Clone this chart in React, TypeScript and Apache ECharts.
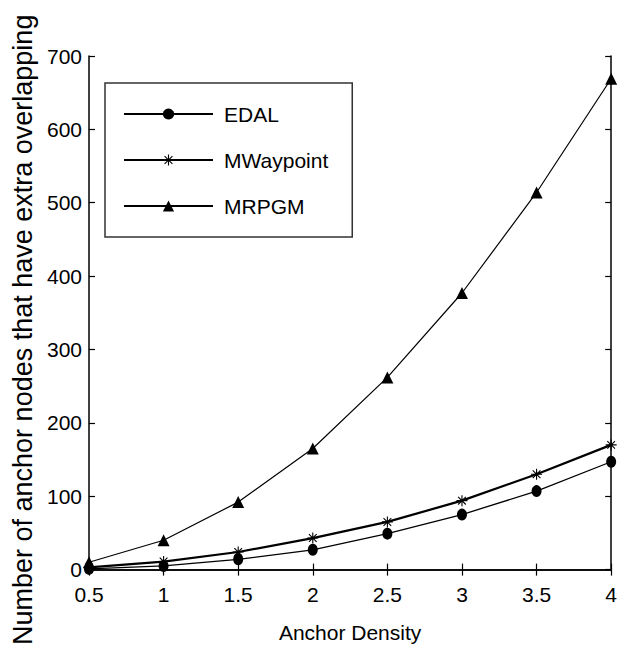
import React, { useEffect, useRef } from "react";
import * as echarts from "echarts";

const xValues = [0.5, 1, 1.5, 2, 2.5, 3, 3.5, 4];
const edal = [1, 5, 14, 27, 49, 75, 107, 147];
const mwaypoint = [3, 11, 24, 43, 65, 94, 130, 170];
const mrpgm = [10, 40, 92, 165, 262, 377, 514, 669];
const seriesNames = ["EDAL", "MWaypoint", "MRPGM"];

const ASTERISK =
  "path://M-1,-10L1,-10L1,10L-1,10Z M-10,-1L10,-1L10,1L-10,1Z M-7.7,-6.3L-6.3,-7.7L7.7,6.3L6.3,7.7Z M6.3,-7.7L7.7,-6.3L-6.3,7.7L-7.7,6.3Z";

const FONT = "'Liberation Sans', Arial, sans-serif";

export default function App() {
  const ref = useRef<HTMLDivElement>(null);
  useEffect(() => {
    document.body.style.margin = "0";
    const chart = echarts.init(ref.current!, null, { renderer: "svg" });
    const pairs = (ys: number[]) => xValues.map((x, i) => [x, ys[i]]);
    const axisCommon = {
      type: "value" as const,
      axisLine: { show: true, lineStyle: { color: "#000", width: 1.5 } },
      axisTick: { show: true, inside: true, length: 6, lineStyle: { color: "#000", width: 1.2 } },
      splitLine: { show: false },
    };
    chart.setOption({
      animation: false,
      backgroundColor: "#fff",
      grid: { left: 89, right: 8, top: 56, bottom: 77, containLabel: false },
      legend: {
        data: seriesNames,
        orient: "vertical",
        left: 105,
        top: 83,
        padding: [17, 24, 17, 18],
        itemGap: 18,
        itemWidth: 89,
        itemHeight: 14,
        backgroundColor: "#fff",
        borderColor: "#333",
        borderWidth: 1.5,
        borderRadius: 0,
        textStyle: { fontFamily: FONT, fontSize: 21, color: "#000", lineHeight: 28, padding: [0, 0, 0, 6] },
      },
      xAxis: [
        {
          ...axisCommon,
          position: "bottom",
          min: 0.5,
          max: 4,
          interval: 0.5,
          name: "Anchor Density",
          nameLocation: "middle",
          nameGap: 52,
          nameTextStyle: { fontFamily: FONT, fontSize: 21, color: "#000" },
          axisLabel: { show: true, margin: 14, fontFamily: FONT, fontSize: 21, color: "#000" },
        },
        {
          ...axisCommon,
          position: "top",
          min: 0.5,
          max: 4,
          interval: 0.5,
          axisLabel: { show: false },
        },
      ],
      yAxis: [
        {
          ...axisCommon,
          position: "left",
          min: 0,
          max: 700,
          interval: 100,
          name: "Number of anchor nodes that have extra overlapping",
          nameLocation: "middle",
          nameRotate: 90,
          nameGap: 50,
          nameTextStyle: { fontFamily: FONT, fontSize: 27, color: "#000", padding: [0, 34, 0, 0] },
          axisLabel: { show: true, margin: 7, fontFamily: FONT, fontSize: 21, color: "#000" },
        },
        {
          ...axisCommon,
          position: "right",
          min: 0,
          max: 700,
          interval: 100,
          axisLabel: { show: false },
        },
      ],
      series: [
        {
          name: seriesNames[0],
          type: "line",
          data: pairs(edal),
          symbol: "circle",
          symbolSize: [10, 12],
          showAllSymbol: true,
          clip: false,
          lineStyle: { color: "#000", width: 1.3 },
          itemStyle: { color: "#000" },
        },
        {
          name: seriesNames[1],
          type: "line",
          data: pairs(mwaypoint),
          symbol: ASTERISK,
          symbolSize: 11,
          showAllSymbol: true,
          clip: false,
          lineStyle: { color: "#000", width: 2.2 },
          itemStyle: { color: "#000" },
        },
        {
          name: seriesNames[2],
          type: "line",
          data: pairs(mrpgm),
          symbol: "triangle",
          symbolSize: [12, 12],
          showAllSymbol: true,
          clip: false,
          lineStyle: { color: "#000", width: 1.2 },
          itemStyle: { color: "#000" },
        },
      ],
    });
    return () => chart.dispose();
  }, []);
  return <div ref={ref} style={{ width: 620, height: 648 }} />;
}
